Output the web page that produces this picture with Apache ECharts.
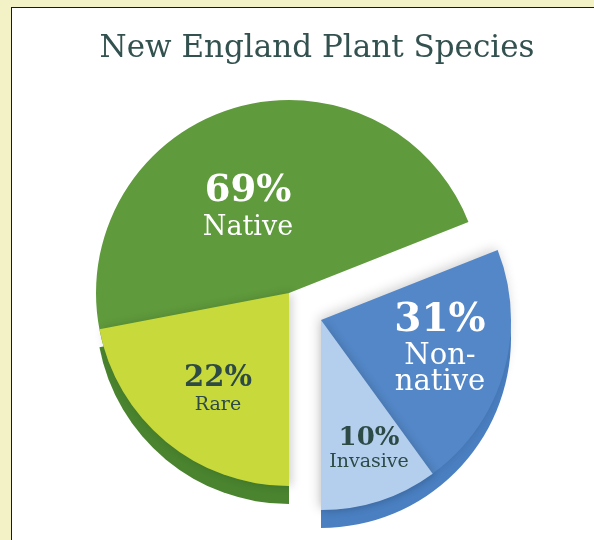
<!DOCTYPE html>
<html>
<head>
<meta charset="utf-8">
<title>New England Plant Species</title>
<script src="https://cdn.jsdelivr.net/npm/echarts@6/dist/echarts.min.js"></script>
<style>
  html, body { margin: 0; padding: 0; width: 594px; height: 540px; overflow: hidden; background: #f2f2c6; }
  #panel { position: absolute; left: 11px; top: 7px; width: 620px; height: 560px; background: #ffffff;
           border-left: 1px solid #1a1a1a; border-top: 1px solid #1a1a1a; }
  #chart { position: absolute; left: 0; top: 0; width: 594px; height: 540px; }
</style>
</head>
<body>
<div id="panel"></div>
<div id="chart"></div>
<script>
// Share of New England plant species (percent)
const groupNames = ['Native', 'Non-\nnative'];
const groupValues = [69, 31];
const subsetNames = ['Rare', 'Invasive'];
const subsetValues = [22, 10];

const FONT = 'DejaVu Serif';
const C_NATIVE = '#5f9a3c';
const C_NATIVE_WALL = '#4a842f';
const C_RARE = '#c8da3b';
const C_NON = '#5387c7';
const C_NON_WALL = '#4a7fc1';
const C_INV = '#b4cfee';
const DARK_TEXT = '#2d4a47';

const GREEN_R = 193;
const BLUE_R = 190;
const GREEN_C = [289, 293];
const BLUE_C = [321, 320];
const WALL = 18;

const none = { color: 'rgba(0,0,0,0)', shadowBlur: 0 };
const hidden = { show: false };

function labelText(value, name, big, small) {
  const lines = name.split('\n').map(s => `{${small}|${s}}`).join('\n');
  return `{${big}|${value}%}\n${lines}`;
}

function pieBase(center, r, startAngle, clockwise, z) {
  return {
    type: 'pie',
    center: center,
    radius: [0, r],
    startAngle: startAngle,
    clockwise: clockwise,
    avoidLabelOverlap: false,
    silent: true,
    animation: false,
    z: z,
    labelLine: { show: false },
    emphasis: { disabled: true }
  };
}

const series = [
  // side wall under the rare slice
  Object.assign(pieBase([GREEN_C[0], GREEN_C[1] + WALL], GREEN_R, 270, true, 1), {
    label: hidden,
    data: [
      { name: 'rare-wall', value: subsetValues[0], itemStyle: { color: C_NATIVE_WALL } },
      { name: 'rest', value: 100 - subsetValues[0], itemStyle: none }
    ]
  }),
  // side wall under the non-native block
  Object.assign(pieBase([BLUE_C[0], BLUE_C[1] + WALL], BLUE_R, 270, false, 1), {
    label: hidden,
    data: [
      { name: 'non-wall', value: groupValues[1], itemStyle: { color: C_NON_WALL } },
      { name: 'rest', value: groupValues[0], itemStyle: none }
    ]
  }),
  // native block
  Object.assign(pieBase(GREEN_C, GREEN_R, 270, true, 2), {
    label: {
      show: true, position: 'inside', color: '#ffffff',
      formatter: p => labelText(p.value, p.name, 'p', 'n'),
      rich: {
        p: { fontFamily: FONT, fontWeight: 'bold', fontSize: 37, color: '#ffffff', lineHeight: 42 },
        n: { fontFamily: FONT, fontSize: 27, color: '#ffffff', lineHeight: 32 }
      }
    },
    labelLayout: { x: 248, y: 207, align: 'center', verticalAlign: 'middle' },
    data: [
      { name: groupNames[0], value: groupValues[0], itemStyle: { color: C_NATIVE } },
      { name: 'rest', value: groupValues[1], itemStyle: none, label: hidden }
    ]
  }),
  // rare subset of the native block
  Object.assign(pieBase(GREEN_C, GREEN_R, 270, true, 3), {
    label: {
      show: true, position: 'inside',
      formatter: p => labelText(p.value, p.name, 'p', 'n'),
      rich: {
        p: { fontFamily: FONT, fontWeight: 'bold', fontSize: 29, color: DARK_TEXT, lineHeight: 32 },
        n: { fontFamily: FONT, fontSize: 19, color: DARK_TEXT, lineHeight: 22 }
      }
    },
    labelLayout: { x: 218, y: 389, align: 'center', verticalAlign: 'middle' },
    itemStyle: { shadowBlur: 10, shadowColor: 'rgba(0,0,0,0.18)', shadowOffsetX: 3 },
    data: [
      { name: subsetNames[0], value: subsetValues[0], itemStyle: { color: C_RARE } },
      { name: 'rest', value: 100 - subsetValues[0], itemStyle: none, label: hidden }
    ]
  }),
  // non-native block
  Object.assign(pieBase(BLUE_C, BLUE_R, 270, false, 2), {
    label: {
      show: true, position: 'inside',
      formatter: p => labelText(p.value, p.name, 'p', 'n'),
      rich: {
        p: { fontFamily: FONT, fontWeight: 'bold', fontSize: 39, color: '#ffffff', lineHeight: 44 },
        n: { fontFamily: FONT, fontSize: 29, color: '#ffffff', lineHeight: 26 }
      }
    },
    labelLayout: { x: 440, y: 347, align: 'center', verticalAlign: 'middle' },
    itemStyle: { shadowBlur: 12, shadowColor: 'rgba(0,0,0,0.18)', shadowOffsetX: -2, shadowOffsetY: -2 },
    data: [
      { name: groupNames[1], value: groupValues[1], itemStyle: { color: C_NON } },
      { name: 'rest', value: groupValues[0], itemStyle: none, label: hidden }
    ]
  }),
  // invasive subset of the non-native block
  Object.assign(pieBase(BLUE_C, BLUE_R, 270, false, 3), {
    label: {
      show: true, position: 'inside',
      formatter: p => labelText(p.value, p.name, 'p', 'n'),
      rich: {
        p: { fontFamily: FONT, fontWeight: 'bold', fontSize: 26, color: DARK_TEXT, lineHeight: 26 },
        n: { fontFamily: FONT, fontSize: 19, color: DARK_TEXT, lineHeight: 22 }
      }
    },
    labelLayout: { x: 369, y: 449, align: 'center', verticalAlign: 'middle' },
    itemStyle: { shadowBlur: 8, shadowColor: 'rgba(0,0,0,0.15)', shadowOffsetX: 2 },
    data: [
      { name: subsetNames[1], value: subsetValues[1], itemStyle: { color: C_INV } },
      { name: 'rest', value: 100 - subsetValues[1], itemStyle: none, label: hidden }
    ]
  })
];

const chart = echarts.init(document.getElementById('chart'), null, { renderer: 'canvas' });
chart.setOption({
  backgroundColor: 'transparent',
  animation: false,
  title: {
    text: 'New England Plant Species',
    left: 312,
    top: 28,
    textAlign: 'center',
    textStyle: { fontFamily: FONT, fontSize: 31, fontWeight: 'normal', color: '#33524f' }
  },
  series: series
});
</script>
</body>
</html>
